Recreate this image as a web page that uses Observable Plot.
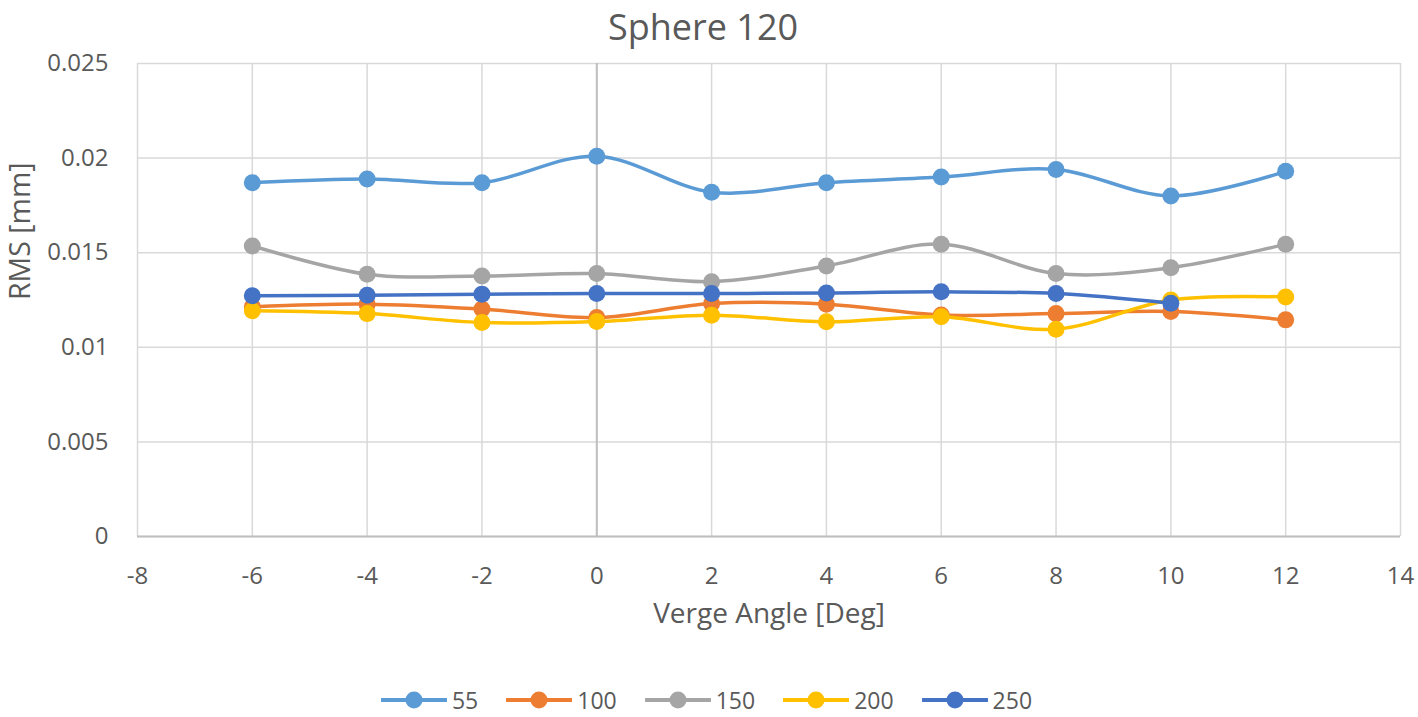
<!DOCTYPE html>
<html>
<head>
<meta charset="utf-8">
<script src="https://cdn.jsdelivr.net/npm/d3@7"></script>
<script src="https://cdn.jsdelivr.net/npm/@observablehq/plot@0.6"></script>
<style>
  html, body { margin: 0; padding: 0; background: #fff; }
  body { width: 1418px; height: 717px; position: relative; overflow: hidden; font-family: "Open Sans", sans-serif; color: #595959; }
  #chart { position: absolute; top: 0; left: 0; }
  #legend { position: absolute; top: 683px; left: 0; width: 1413px; height: 34px; display: flex; justify-content: center; align-items: center; font-size: 23px; color: #595959; }
  .item { display: flex; align-items: center; margin: 0 14px; }
  .item svg { margin-right: 5px; }
</style>
</head>
<body>
<div id="chart"></div>
<div id="legend"></div>
<script>
// ---- data ----
const titleText = "Sphere 120";
const angles = [-6, -4, -2, 0, 2, 4, 6, 8, 10, 12];
const seriesNames = ["55", "100", "150", "200", "250"];
const seriesColors = ["#5B9BD5", "#ED7D31", "#A5A5A5", "#FFC000", "#4472C4"];
const s55  = [0.0187, 0.0189, 0.0187, 0.0201, 0.0182, 0.0187, 0.0190, 0.0194, 0.0180, 0.0193];
const s100 = [0.01214, 0.01228, 0.01202, 0.01157, 0.01231, 0.01228, 0.01171, 0.01178, 0.01189, 0.01145];
const s150 = [0.01536, 0.01386, 0.01377, 0.01390, 0.01347, 0.01430, 0.01545, 0.01390, 0.01421, 0.01545];
const s200 = [0.01193, 0.01178, 0.01131, 0.01136, 0.01170, 0.01135, 0.01161, 0.01096, 0.01250, 0.01266];
const s250 = [0.01272, 0.01275, 0.01281, 0.01284, 0.01284, 0.01287, 0.01293, 0.01284, 0.01233, null];
const seriesValues = [s55, s100, s150, s200, s250];
const xTicks = [-8, -6, -4, -2, 0, 2, 4, 6, 8, 10, 12, 14];
const yTicks = [0, 0.005, 0.01, 0.015, 0.02, 0.025];
const xLabel = "Verge Angle [Deg]";
const yLabel = "RMS [mm]";

// ---- build table ----
const rows = [];
seriesNames.forEach((name, i) => {
  angles.forEach((a, j) => {
    const v = seriesValues[i][j];
    if (v != null) rows.push({series: name, angle: a, rms: v});
  });
});

const seriesMarks = [];
seriesNames.forEach((name, i) => {
  const d = rows.filter(r => r.series === name);
  seriesMarks.push(Plot.line(d, {x: "angle", y: "rms", stroke: seriesColors[i], strokeWidth: 3.5, curve: "cardinal"}));
  seriesMarks.push(Plot.dot(d, {x: "angle", y: "rms", r: 8.5, fill: seriesColors[i], stroke: "none"}));
});

const chart = Plot.plot({
  width: 1418,
  height: 680,
  marginTop: 63,
  marginBottom: 144,
  marginLeft: 137,
  marginRight: 18,
  style: {fontFamily: "Open Sans, sans-serif", fontSize: "24px", color: "#595959", background: "#fff"},
  x: {domain: [-8, 14], axis: null},
  y: {domain: [0, 0.025], axis: null},
  marks: [
    Plot.gridX(xTicks, {stroke: "#d9d9d9", strokeOpacity: 1, strokeWidth: 1.5}),
    Plot.gridY(yTicks, {stroke: "#d9d9d9", strokeOpacity: 1, strokeWidth: 1.5}),
    Plot.ruleX([0], {stroke: "#bfbfbf", strokeWidth: 2}),
    Plot.ruleY([0], {stroke: "#bfbfbf", strokeWidth: 2}),
    Plot.axisX(xTicks, {tickSize: 0, tickPadding: 30, label: null, fontSize: 24, fill: "#595959",
      tickFormat: d => String(d)}),
    Plot.axisY(yTicks, {tickSize: 0, tickPadding: 29, label: null, fontSize: 24, fill: "#595959",
      tickFormat: d => String(+d.toFixed(3))}),
    ...seriesMarks,
    Plot.text([titleText], {frameAnchor: "top", lineAnchor: "top", dx: -66, dy: -49.5, fontSize: 36, fill: "#595959"}),
    Plot.text([xLabel], {frameAnchor: "bottom", dy: 86, fontSize: 28, fill: "#595959"}),
    Plot.text([yLabel], {frameAnchor: "left", dx: -117, rotate: -90, fontSize: 28.5, fill: "#595959"})
  ]
});
document.getElementById("chart").appendChild(chart);

// ---- legend ----
const legend = document.getElementById("legend");
seriesNames.forEach((name, i) => {
  const item = document.createElement("div");
  item.className = "item";
  const ns = "http://www.w3.org/2000/svg";
  const sw = document.createElementNS(ns, "svg");
  sw.setAttribute("width", 66); sw.setAttribute("height", 20);
  const ln = document.createElementNS(ns, "line");
  ln.setAttribute("x1", 1); ln.setAttribute("x2", 65); ln.setAttribute("y1", 10); ln.setAttribute("y2", 10);
  ln.setAttribute("stroke", seriesColors[i]); ln.setAttribute("stroke-width", 4);
  ln.setAttribute("stroke-linecap", "round");
  const c = document.createElementNS(ns, "circle");
  c.setAttribute("cx", 33); c.setAttribute("cy", 10); c.setAttribute("r", 8.5);
  c.setAttribute("fill", seriesColors[i]);
  sw.appendChild(ln); sw.appendChild(c);
  const t = document.createElement("span");
  t.textContent = name;
  item.appendChild(sw); item.appendChild(t);
  legend.appendChild(item);
});
</script>
</body>
</html>
